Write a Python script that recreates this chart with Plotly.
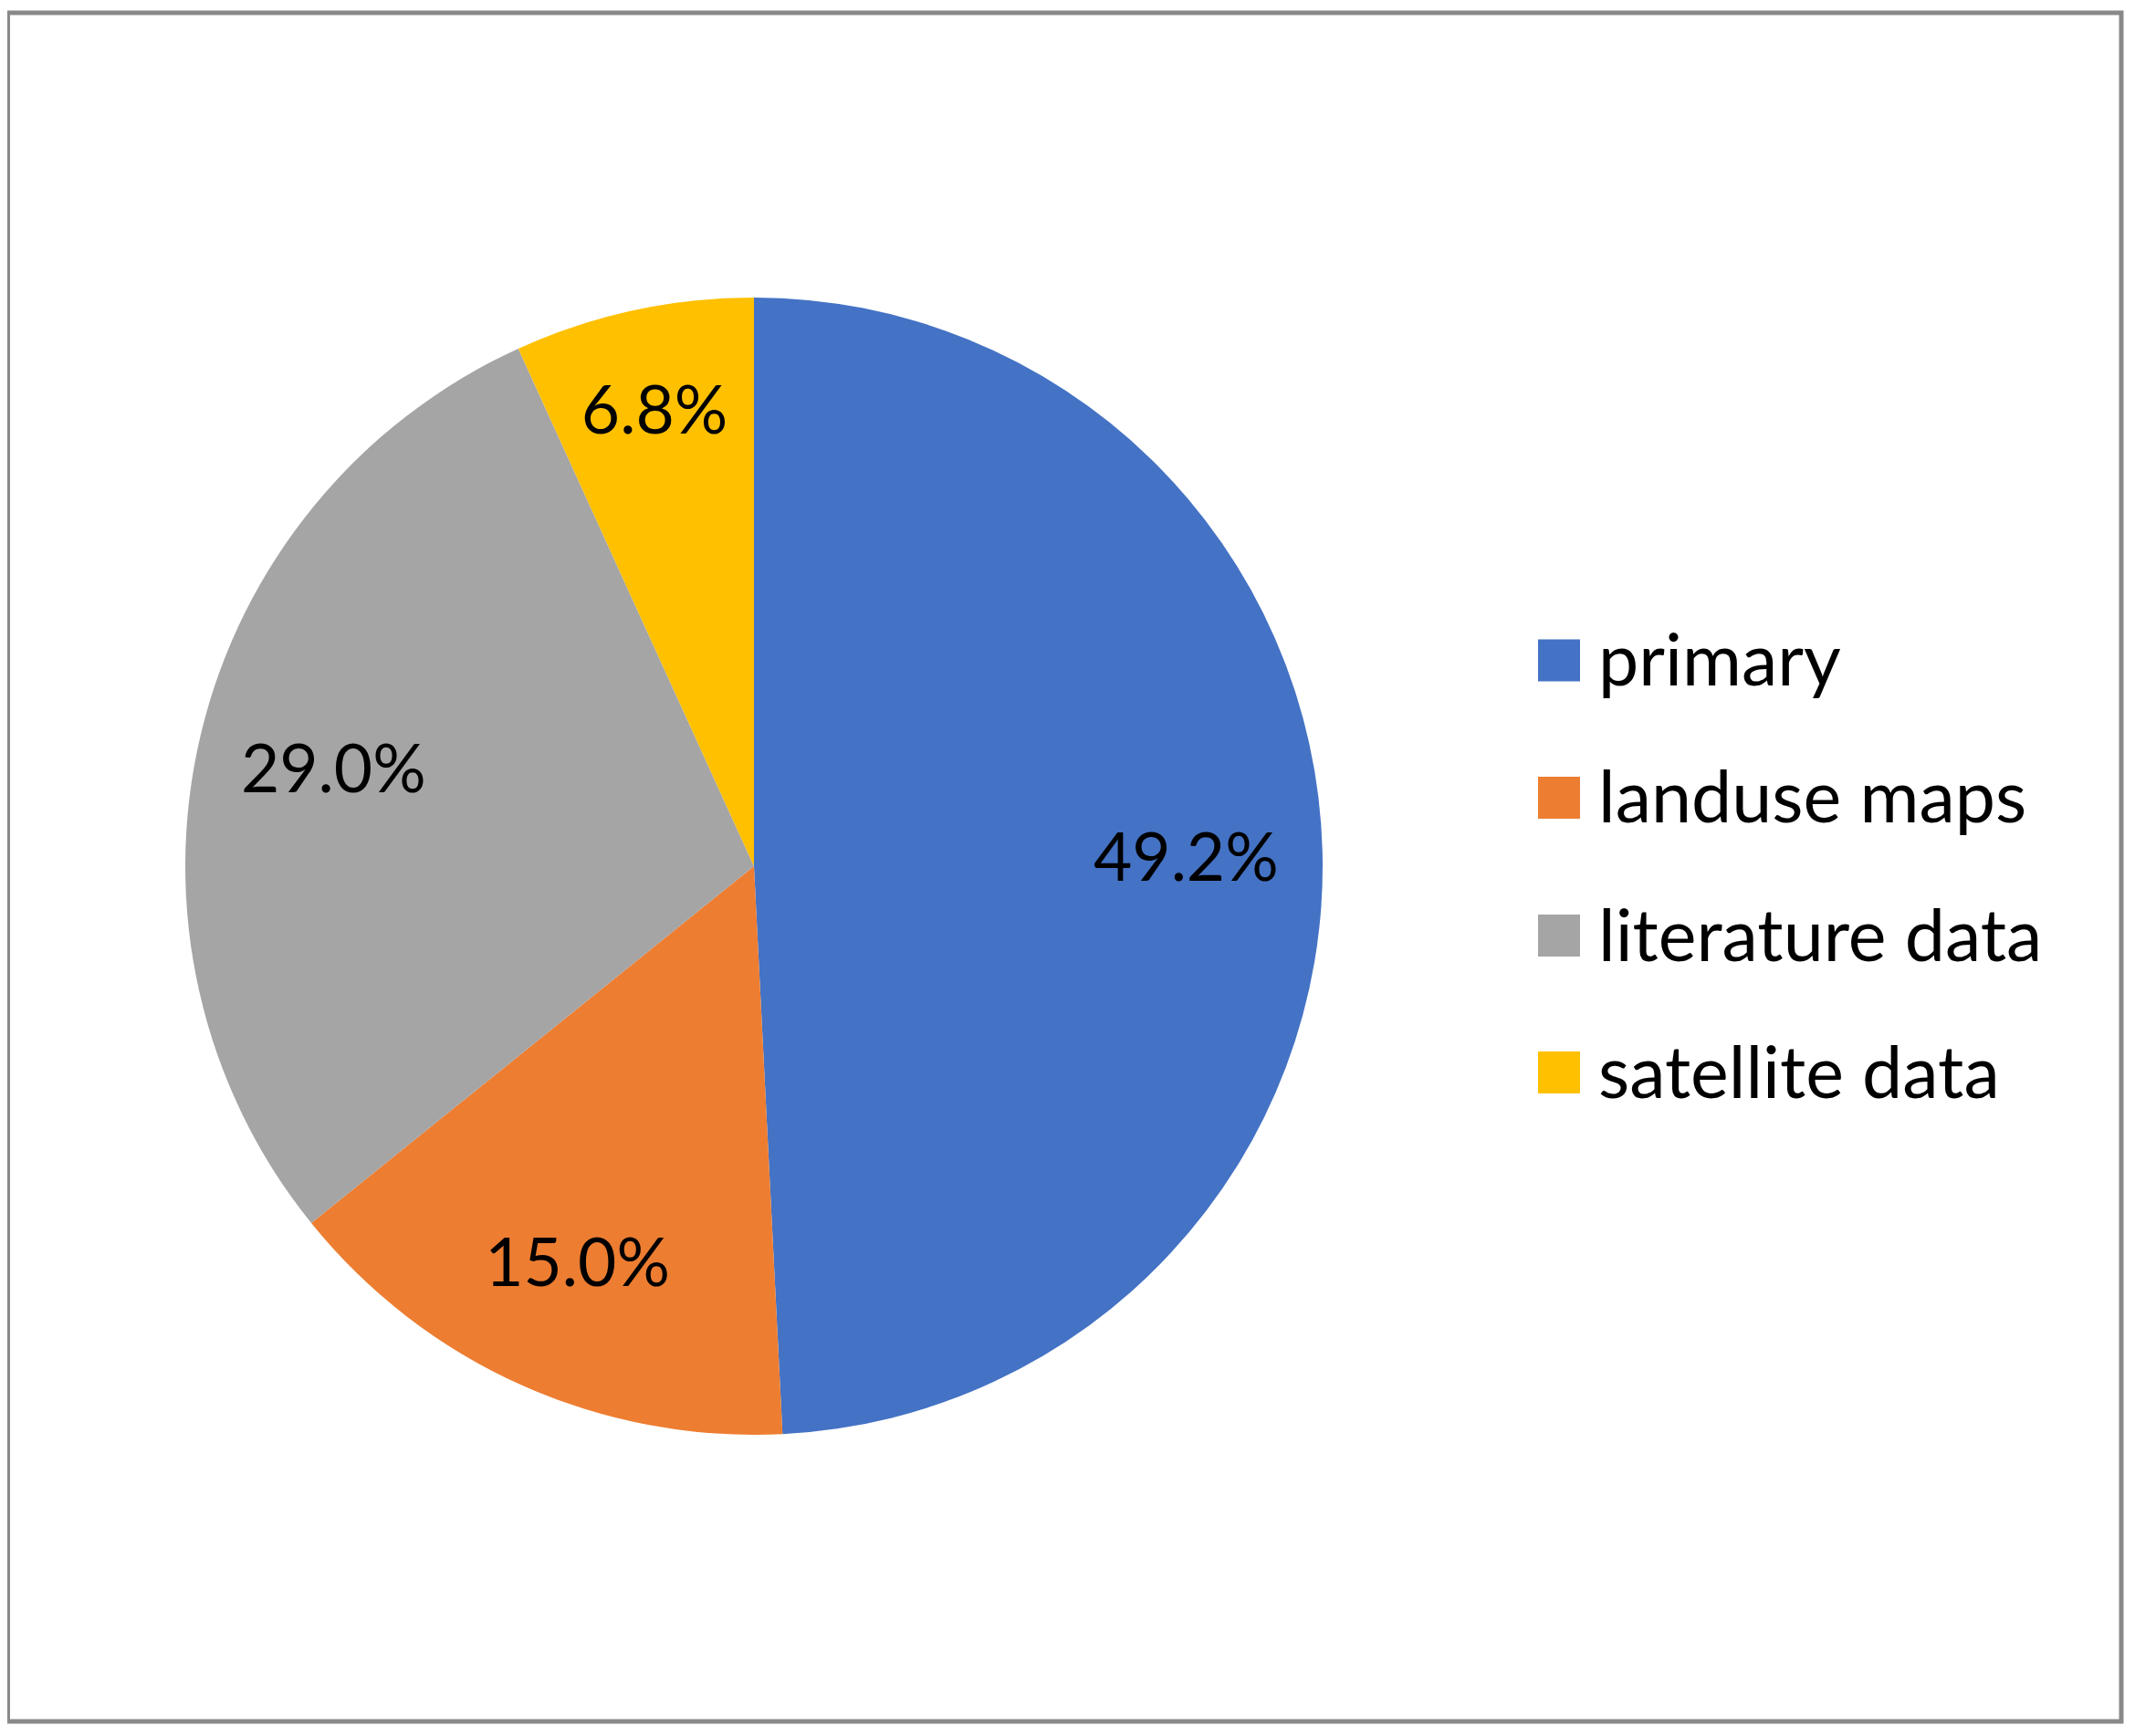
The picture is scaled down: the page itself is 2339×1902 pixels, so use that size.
import plotly.graph_objects as go

categories = ["primary", "landuse maps", "literature data", "satellite data"]
values = [49.2, 15.0, 29.0, 6.8]
colors = ["#4472C4", "#ED7D31", "#A5A5A5", "#FFC000"]

# page body has an 8px margin; work in figure coordinates = screen - 8
OFF = 8
W, H = 2339 - OFF, 1902 - OFF
FONT = "Lato"
LABEL_SIZE = 73
LEGEND_SIZE = 79

cx, cy, R = 826 - OFF, 949 - OFF, 623
dom = dict(x=[(cx - R) / W, (cx + R) / W], y=[1 - (cy + R) / H, 1 - (cy - R) / H])

fig = go.Figure()
fig.add_trace(go.Pie(
    labels=categories, values=values, sort=False, direction="clockwise", rotation=0,
    marker=dict(colors=colors, line=dict(width=0)),
    textinfo="none", domain=dom, showlegend=False, hoverinfo="label+percent",
))
# transparent ring carrying the percentage labels, placed out toward the rim
fig.add_trace(go.Pie(
    labels=categories, values=values, sort=False, direction="clockwise", rotation=0,
    hole=0.52,
    marker=dict(colors=["rgba(0,0,0,0)"] * len(values), line=dict(width=0)),
    texttemplate="%{percent:.1%}", textposition="inside",
    insidetextorientation="horizontal",
    textfont=dict(family=FONT, size=LABEL_SIZE, color="black"),
    domain=dom, showlegend=False, hoverinfo="skip",
))

shapes = [dict(type="rect", xref="paper", yref="paper",
               x0=(8.5 - OFF) / W, x1=(2324 - OFF) / W,
               y0=1 - (1886 - OFF) / H, y1=1 - (14 - OFF) / H,
               line=dict(color="#898989", width=5), fillcolor="rgba(0,0,0,0)")]
annotations = []
row_y = [723.5, 874, 1025, 1175]
for cat, col, yc in zip(categories, colors, row_y):
    yf = yc - OFF
    shapes.append(dict(type="rect", xref="paper", yref="paper",
                       x0=(1685 - OFF) / W, x1=(1731 - OFF) / W,
                       y0=1 - (yf + 23) / H, y1=1 - (yf - 23) / H,
                       line=dict(width=0), fillcolor=col))
    annotations.append(dict(xref="paper", yref="paper", x=(1749 - OFF) / W, y=1 - (yf - 3) / H,
                            xanchor="left", yanchor="middle", showarrow=False, text=cat,
                            font=dict(family=FONT, size=LEGEND_SIZE, color="black")))

fig.update_layout(
    width=W, height=H,
    margin=dict(l=0, r=0, t=0, b=0),
    paper_bgcolor="white",
    plot_bgcolor="white",
    shapes=shapes,
    annotations=annotations,
    uniformtext=dict(minsize=LABEL_SIZE, mode="show"),
)

fig.write_html("out.html")
